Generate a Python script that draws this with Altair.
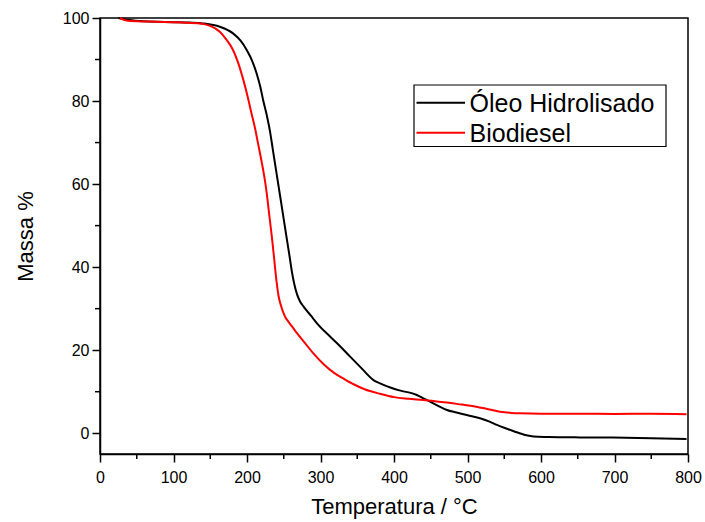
import altair as alt
import pandas as pd

series_names = ["Óleo Hidrolisado", "Biodiesel"]
series_colors = ["#000000", "#FF0000"]

oleo_temp = [25, 40, 60, 100, 122, 140, 163, 181, 191, 200, 207, 213, 218, 222, 227, 231, 235, 240,
             245, 250, 254, 258, 261, 264, 268, 272, 277, 287, 297, 313, 327, 340, 355, 372, 381, 395,
             410, 425, 431, 440, 449, 460, 472, 485, 499, 517, 530, 540, 555, 571, 580, 590, 610, 653,
             698, 750, 798]
oleo_mass = [100, 99.5, 99.2, 99.0, 98.9, 98.7, 97.9, 96.3, 94.6, 92.2, 89.7, 86.7, 83.5, 80.2, 76.5,
             73.0, 68.5, 62.8, 57.2, 51.5, 47.0, 42.5, 39.0, 36.2, 33.5, 31.8, 30.5, 28.3, 26.1, 23.3,
             20.9, 18.5, 15.8, 12.8, 12.0, 11.0, 10.2, 9.6, 9.2, 8.4, 7.6, 6.6, 5.6, 5.0, 4.4, 3.6, 2.8,
             2.0, 1.0, 0.0, -0.5, -0.8, -0.9, -1.0, -1.05, -1.2, -1.4]

bio_temp = [27, 36, 50, 77, 110, 136, 150, 163, 172, 181, 188, 195, 201, 206, 211, 215, 220, 224, 227,
            230, 234, 237, 240, 243, 247, 250, 252, 257, 263, 268, 279, 290, 305, 318, 331, 345, 360,
            381, 400, 420, 440, 456, 472, 492, 512, 528, 544, 560, 571, 600, 653, 700, 750, 798]
bio_mass = [100, 99.4, 99.2, 99.1, 98.9, 98.7, 98.1, 96.7, 94.8, 92.3, 89.2, 85.1, 81.0, 77.1, 73.4,
            69.8, 65.3, 61.3, 57.6, 53.0, 47.0, 42.0, 36.8, 33.0, 30.3, 28.8, 28.0, 26.7, 25.3, 24.1,
            21.7, 19.3, 16.5, 14.6, 13.2, 11.8, 10.6, 9.5, 8.7, 8.3, 8.0, 7.7, 7.4, 6.9, 6.4, 5.8, 5.2,
            4.9, 4.8, 4.7, 4.7, 4.65, 4.7, 4.6]

x_major = [0, 100, 200, 300, 400, 500, 600, 700, 800]
x_minor = [50, 150, 250, 350, 450, 550, 650, 750]
y_major = [0, 20, 40, 60, 80, 100]
y_minor = [10, 30, 50, 70, 90]

df = pd.concat([
    pd.DataFrame({"T": oleo_temp, "M": oleo_mass, "Série": series_names[0], "o": range(len(oleo_temp))}),
    pd.DataFrame({"T": bio_temp, "M": bio_mass, "Série": series_names[1], "o": range(len(bio_temp))}),
])

FONT = "Liberation Sans"
xscale = alt.Scale(domain=[0, 800], nice=False, zero=False)
yscale = alt.Scale(domain=[-5, 100], nice=False, zero=False)
H = 436

lines = alt.Chart(df).mark_line(strokeWidth=2, interpolate="monotone").encode(
    x=alt.X("T:Q", scale=xscale,
            axis=alt.Axis(values=x_major, title="Temperatura / °C", tickSize=8, ticks=True,
                          labelPadding=7, labelFlush=False, titlePadding=11, orient="bottom", format="d")),
    y=alt.Y("M:Q", scale=yscale,
            axis=alt.Axis(values=y_major, title="Massa %", tickSize=8, ticks=True,
                          labelPadding=3, labelFlush=False, titlePadding=25, orient="left", format="d")),
    color=alt.Color("Série:N", scale=alt.Scale(domain=series_names, range=series_colors), legend=None),
    order="o:Q",
)

x_minor_ticks = alt.Chart(pd.DataFrame({"T": x_minor})).mark_rule(
    color="black", strokeWidth=1.5, clip=False
).encode(x=alt.X("T:Q", scale=xscale), y=alt.value(H), y2=alt.value(H + 5))

y_minor_ticks = alt.Chart(pd.DataFrame({"M": y_minor})).mark_rule(
    color="black", strokeWidth=1.5, clip=False
).encode(y=alt.Y("M:Q", scale=yscale), x=alt.value(0), x2=alt.value(-5))

one = pd.DataFrame({"a": [0]})
legend_box = alt.Chart(one).mark_rect(fill="white", stroke="black", strokeWidth=1.2).encode(
    x=alt.value(314), x2=alt.value(566), y=alt.value(67), y2=alt.value(128.5)
)
legend_layers = [legend_box]
row_y = [84.7, 114.7]
for name, color, ry in zip(series_names, series_colors, row_y):
    legend_layers.append(
        alt.Chart(one).mark_rule(color=color, strokeWidth=2).encode(
            x=alt.value(316.5), x2=alt.value(365), y=alt.value(ry)
        )
    )
    legend_layers.append(
        alt.Chart(one).mark_text(text=name, font=FONT, fontSize=25, color="black",
                                 align="left", baseline="alphabetic").encode(
            x=alt.value(369.5), y=alt.value(ry + 9)
        )
    )

chart = alt.layer(lines, x_minor_ticks, y_minor_ticks, *legend_layers).properties(
    width=588, height=H,
    autosize=alt.AutoSizeParams(type="none"),
    padding={"left": 100, "top": 18, "right": 17, "bottom": 68},
    background="white",
).configure_view(
    stroke="black", strokeWidth=1.5
).configure_axis(
    domainColor="black", domainWidth=1.5, tickColor="black", tickWidth=1.5, ticks=True,
    labelColor="black", labelFont=FONT, labelFontSize=16, grid=False,
    titleFont=FONT, titleFontSize=22, titleFontWeight="normal", titleColor="black",
)

chart.save("out.html", embed_options={"renderer": "svg", "actions": False})
